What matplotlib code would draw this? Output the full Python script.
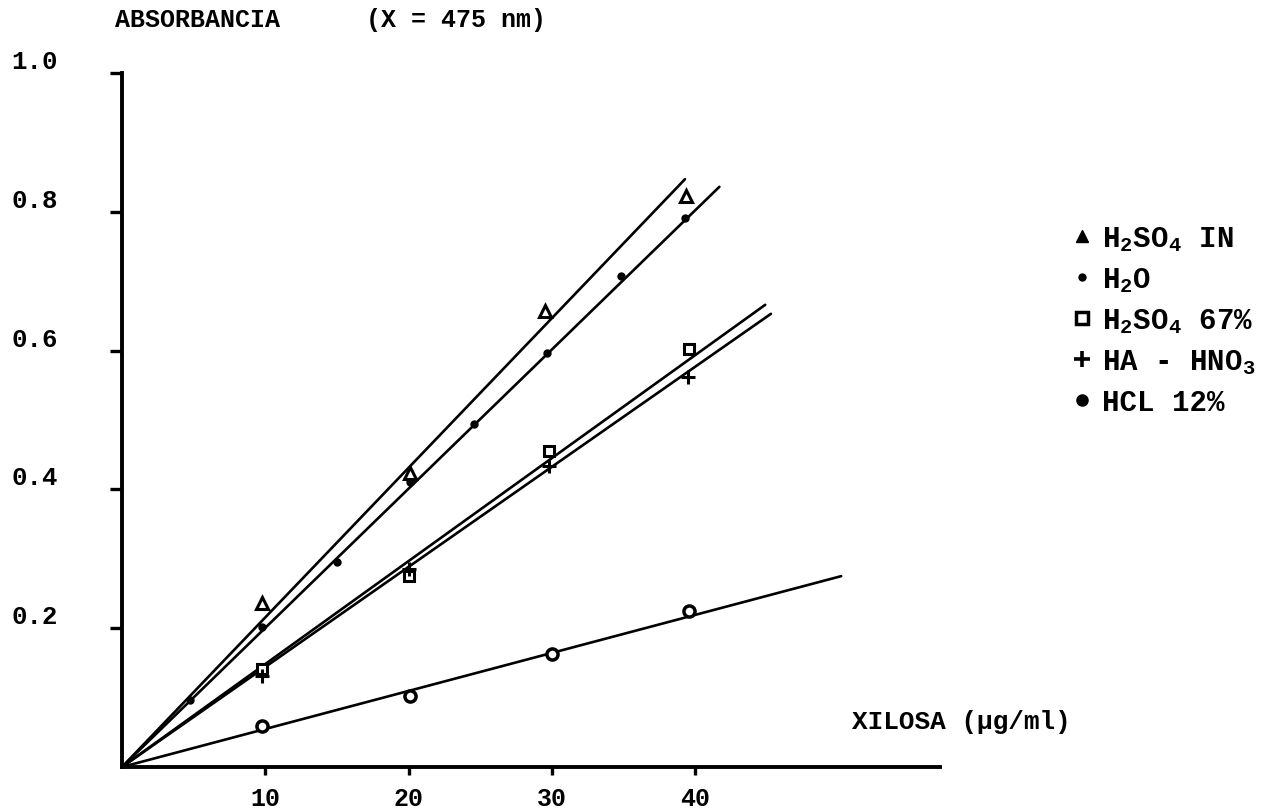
import matplotlib
matplotlib.use("Agg")
import matplotlib.pyplot as plt
from matplotlib.lines import Line2D

plt.rcParams['font.family'] = ['Liberation Mono', 'DejaVu Sans Mono']
plt.rcParams['font.weight'] = 'bold'
plt.rcParams['mathtext.fontset'] = 'custom'
plt.rcParams['mathtext.rm'] = 'Liberation Mono:bold'
plt.rcParams['mathtext.it'] = 'Liberation Mono:bold'
plt.rcParams['mathtext.bf'] = 'Liberation Mono:bold'

# data
x_h2so4_1n = [9.8, 20.1, 29.5, 39.4]
y_h2so4_1n = [0.236, 0.423, 0.657, 0.823]

x_h2o = [4.75, 9.8, 15.0, 20.1, 24.6, 29.7, 34.8, 39.3]
y_h2o = [0.096, 0.202, 0.296, 0.41, 0.494, 0.596, 0.707, 0.791]

x_h2so4_67 = [9.8, 20.0, 29.8, 39.6]
y_h2so4_67 = [0.141, 0.275, 0.455, 0.602]

x_ha_hno3 = [9.8, 20.0, 29.8, 39.5]
y_ha_hno3 = [0.131, 0.285, 0.434, 0.562]

x_hcl = [9.8, 20.1, 30.0, 39.6]
y_hcl = [0.059, 0.102, 0.163, 0.225]

# fitted straight lines (drawn from origin to end point)
line_end_x = [39.3, 41.7, 44.9, 45.3, 50.2]
line_end_y = [0.847, 0.836, 0.666, 0.653, 0.275]

labels = [r"H$_2$SO$_4$ IN", r"H$_2$O", r"H$_2$SO$_4$ 67%", r"HA - HNO$_3$", "HCL 12%"]
xticks = [10, 20, 30, 40]
yticks = [0.2, 0.4, 0.6, 0.8, 1.0]

fig = plt.figure(figsize=(12.71, 8.12), dpi=100)
ax = fig.add_axes([122 / 1271, 44 / 812, 818 / 1271, 694 / 812])

for ex, ey in zip(line_end_x, line_end_y):
    ax.plot([0, ex], [0, ey], color='black', lw=1.9, solid_capstyle='round')

ax.plot(x_h2so4_1n, y_h2so4_1n, ls='none', marker='^', ms=9, mfc='white', mec='black', mew=2.2)
ax.plot(x_h2o, y_h2o, ls='none', marker='o', ms=5, color='black')
ax.plot(x_h2so4_67, y_h2so4_67, ls='none', marker='s', ms=7, mfc='white', mec='black', mew=2.2)
ax.plot(x_ha_hno3, y_ha_hno3, ls='none', marker='+', ms=10, mec='black', mew=2.2)
ax.plot(x_hcl, y_hcl, ls='none', marker='o', ms=8, mfc='white', mec='black', mew=2.5)

ax.set_xlim(0, 57.1)
ax.set_ylim(0, 1.0)
ax.set_xticks(xticks)
ax.set_yticks(yticks)
ax.set_xticklabels([str(t) for t in xticks], fontsize=18)
ax.set_yticklabels([f"{t:.1f}" for t in yticks], fontsize=18.5)
for lab in ax.get_yticklabels():
    lab.set_va('bottom')
ax.tick_params(axis='y', direction='out', length=9, width=2.4, pad=37)
ax.tick_params(axis='x', direction='out', length=6, width=2.4, pad=8)

for s in ['top', 'right']:
    ax.spines[s].set_visible(False)
for s in ['left', 'bottom']:
    ax.spines[s].set_linewidth(2.8)

fig.text(115 / 1271, 1 - 20 / 812, "ABSORBANCIA", fontsize=18, ha='left', va='center')
fig.text(366 / 1271, 1 - 20 / 812, "(X = 475 nm)", fontsize=18, ha='left', va='center')
fig.text(852 / 1271, 1 - 722 / 812, "XILOSA (\u00b5g/ml)", fontsize=18.8, ha='left', va='center')

handles = [
    Line2D([], [], ls='none', marker='^', ms=9, color='black'),
    Line2D([], [], ls='none', marker='o', ms=5, color='black'),
    Line2D([], [], ls='none', marker='s', ms=8, mfc='white', mec='black', mew=2.5),
    Line2D([], [], ls='none', marker='+', ms=11, mec='black', mew=2.6),
    Line2D([], [], ls='none', marker='o', ms=8, color='black'),
]
fig.legend(handles, labels, loc='upper left', bbox_to_anchor=(1074 / 1271, 1 - 225 / 812),
           frameon=False, fontsize=21, handlelength=0.55, handletextpad=0.4,
           labelspacing=0.42, borderpad=0, borderaxespad=0)

fig.savefig("out.png", dpi=100)
